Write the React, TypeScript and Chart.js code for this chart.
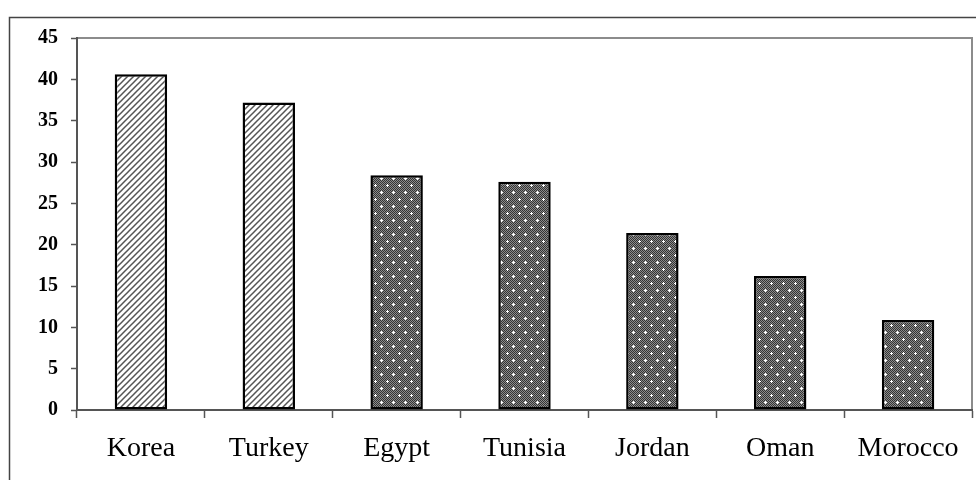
import React, { useEffect, useRef } from "react";
import { Chart, registerables } from "chart.js";

Chart.register(...registerables);

const categories = ["Korea", "Turkey", "Egypt", "Tunisia", "Jordan", "Oman", "Morocco"];
const values = [40.6, 37.2, 28.4, 27.6, 21.4, 16.2, 10.9];
const fillKinds = ["stripe", "stripe", "dot", "dot", "dot", "dot", "dot"];
const yTicks = { min: 0, max: 45, step: 5 };

const SERIF = '"Liberation Serif", "Times New Roman", serif';

function makeStripe(ctx: CanvasRenderingContext2D): CanvasPattern | string {
  const c = document.createElement("canvas");
  c.width = 6;
  c.height = 6;
  const g = c.getContext("2d")!;
  g.fillStyle = "#ffffff";
  g.fillRect(0, 0, 6, 6);
  g.strokeStyle = "#555555";
  g.lineWidth = 1.5;
  g.beginPath();
  g.moveTo(-1, 7);
  g.lineTo(7, -1);
  g.moveTo(-4, 4);
  g.lineTo(4, -4);
  g.moveTo(2, 10);
  g.lineTo(10, 2);
  g.stroke();
  return ctx.createPattern(c, "repeat") || "#888";
}

function makeDot(ctx: CanvasRenderingContext2D): CanvasPattern | string {
  const w = 12;
  const h = 14;
  const c = document.createElement("canvas");
  c.width = w;
  c.height = h;
  const g = c.getContext("2d")!;
  g.fillStyle = "#8c8c8c";
  g.fillRect(0, 0, w, h);
  g.fillStyle = "#333333";
  for (let y = 0; y < h; y++) {
    for (let x = 0; x < w; x++) {
      if ((x + y) % 2 === 0) g.fillRect(x, y, 1, 1);
    }
  }
  g.fillStyle = "#ffffff";
  const dots = [
    [3, 3],
    [9, 10],
  ];
  for (const [dx, dy] of dots) {
    g.fillRect(dx - 1, dy, 3, 1);
    g.fillRect(dx, dy - 1, 1, 3);
  }
  return ctx.createPattern(c, "repeat") || "#777";
}

const framePlugin = {
  id: "frame",
  beforeDraw(chart: any) {
    const ctx = chart.ctx as CanvasRenderingContext2D;
    ctx.save();
    ctx.strokeStyle = "#444444";
    ctx.lineWidth = 1.5;
    ctx.beginPath();
    ctx.moveTo(976, 17.5);
    ctx.lineTo(9.5, 17.5);
    ctx.lineTo(9.5, 480);
    ctx.stroke();
    const a = chart.chartArea;
    ctx.strokeStyle = "#8c8c8c";
    ctx.lineWidth = 2;
    ctx.beginPath();
    ctx.moveTo(a.left, a.top);
    ctx.lineTo(a.right, a.top);
    ctx.lineTo(a.right, a.bottom);
    ctx.stroke();
    ctx.restore();
  },
};

export default function App() {
  const ref = useRef<HTMLCanvasElement | null>(null);

  useEffect(() => {
    const canvas = ref.current;
    if (!canvas) return;
    const ctx = canvas.getContext("2d")!;
    const stripe = makeStripe(ctx);
    const dot = makeDot(ctx);
    const bg = fillKinds.map((k) => (k === "stripe" ? stripe : dot));

    const chart = new Chart(canvas, {
      type: "bar",
      data: {
        labels: categories,
        datasets: [
          {
            data: values,
            backgroundColor: bg as any,
            borderColor: "#000000",
            borderWidth: 2.5,
            borderSkipped: false,
            categoryPercentage: 1,
            barPercentage: 0.41,
          },
        ],
      },
      options: {
        animation: false,
        responsive: false,
        devicePixelRatio: 1,
        layout: { padding: { top: 38, right: 4, left: 0, bottom: 0 } },
        plugins: { legend: { display: false }, tooltip: { enabled: false } },
        scales: {
          x: {
            grid: {
              offset: true,
              drawOnChartArea: false,
              drawTicks: true,
              tickLength: 8,
              tickColor: "#555555",
              tickWidth: 1.5,
            },
            border: { display: true, color: "#555555", width: 2 },
            ticks: {
              color: "#000000",
              padding: 14,
              font: { family: SERIF, size: 28 },
              maxRotation: 0,
              autoSkip: false,
            },
            afterFit(scale: any) {
              scale.height = 70;
            },
          },
          y: {
            min: yTicks.min,
            max: yTicks.max,
            grid: {
              drawOnChartArea: false,
              drawTicks: true,
              tickLength: 6,
              tickColor: "#555555",
              tickWidth: 1.5,
            },
            border: { display: true, color: "#555555", width: 2 },
            ticks: {
              stepSize: yTicks.step,
              color: "#000000",
              padding: 13,
              font: { family: SERIF, size: 20, weight: "bold" },
            },
            afterFit(scale: any) {
              scale.width = 77;
            },
          },
        },
      },
      plugins: [framePlugin],
    });
    return () => chart.destroy();
  }, []);

  return (
    <canvas
      ref={ref}
      width={976}
      height={480}
      style={{ position: "absolute", left: 0, top: 0, width: 976, height: 480 }}
    />
  );
}
